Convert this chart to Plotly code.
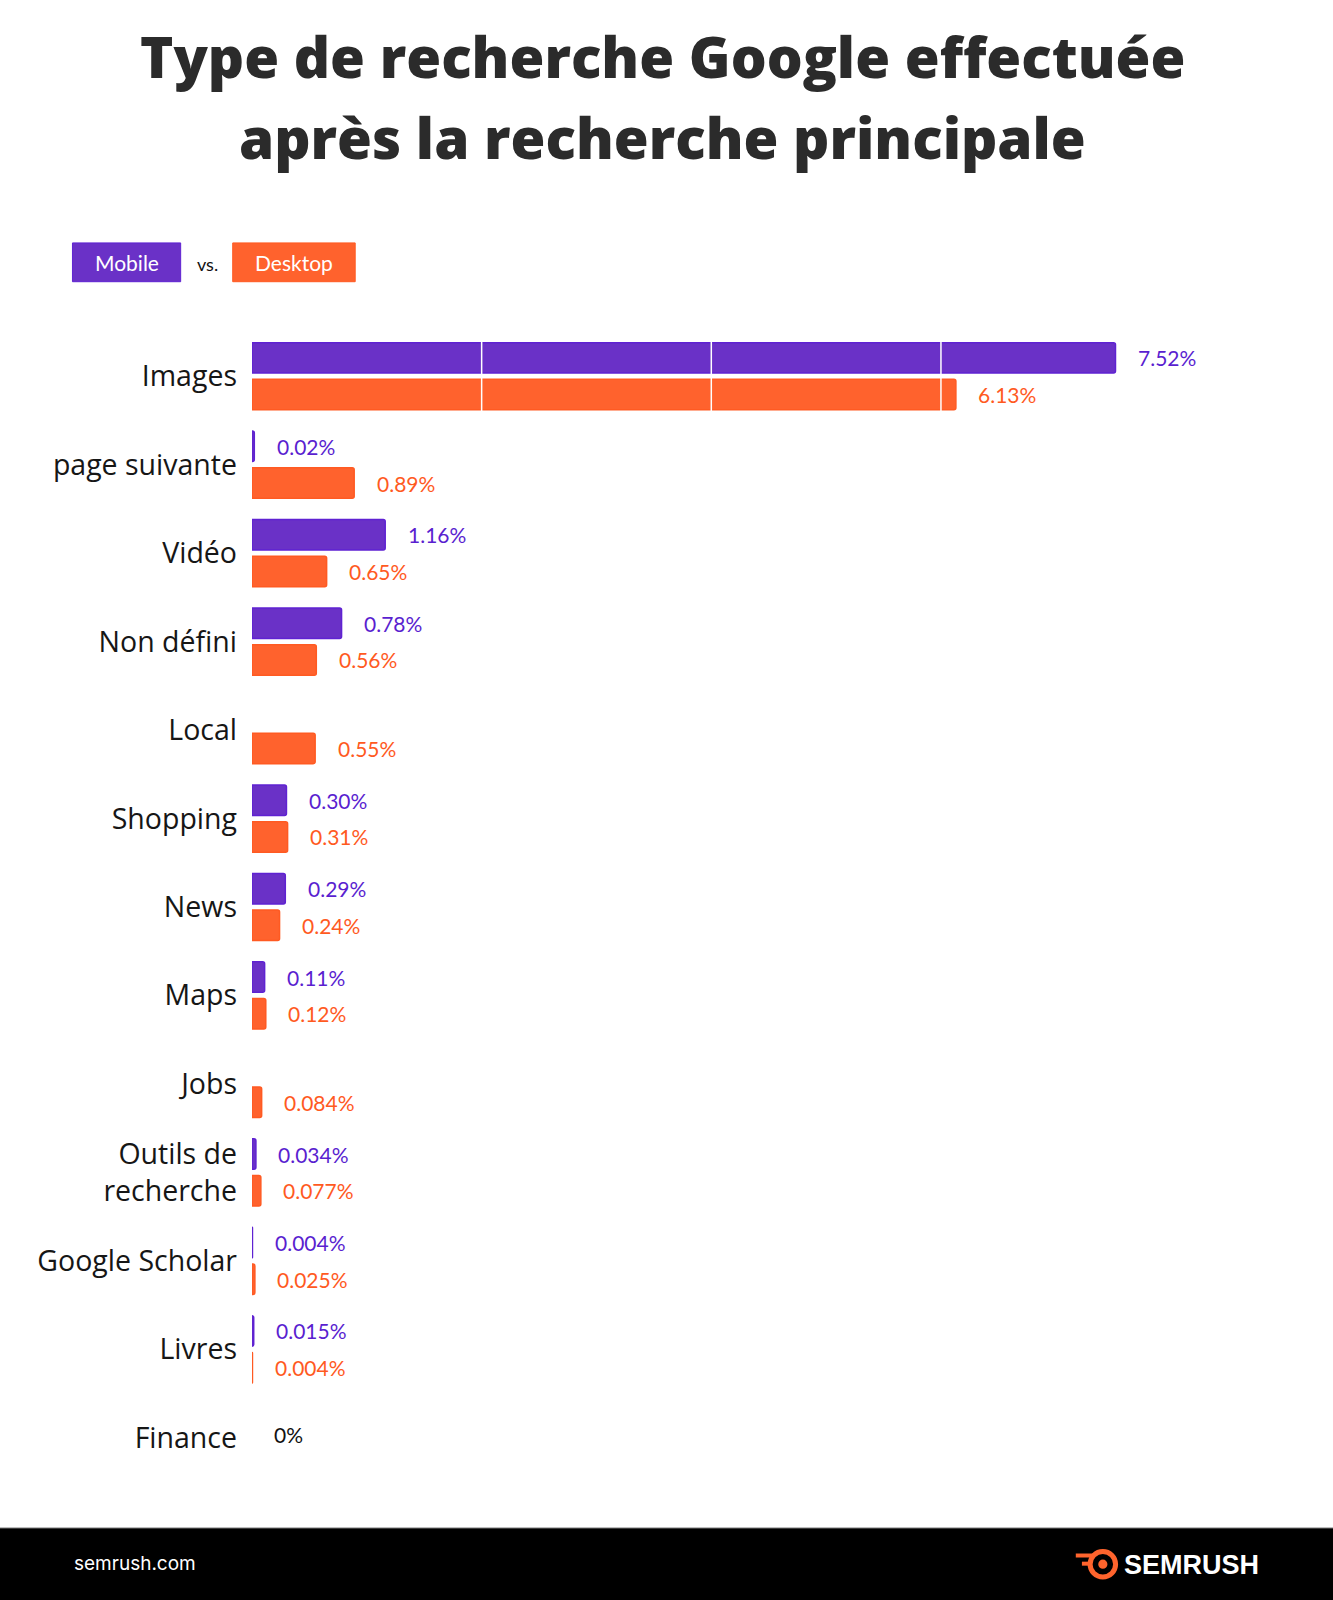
import plotly.graph_objects as go

# ---------------- data ----------------
categories = ["Images", "page suivante", "Vidéo", "Non défini", "Local", "Shopping",
              "News", "Maps", "Jobs", "Outils de<br>recherche", "Google Scholar",
              "Livres", "Finance"]
mobile_values = [7.52, 0.02, 1.16, 0.78, None, 0.30, 0.29, 0.11, None, 0.034, 0.004, 0.015, 0]
desktop_values = [6.13, 0.89, 0.65, 0.56, 0.55, 0.31, 0.24, 0.12, 0.084, 0.077, 0.025, 0.004, 0]
mobile_labels = ["7.52%", "0.02%", "1.16%", "0.78%", "", "0.30%", "0.29%", "0.11%", "",
                 "0.034%", "0.004%", "0.015%", ""]
desktop_labels = ["6.13%", "0.89%", "0.65%", "0.56%", "0.55%", "0.31%", "0.24%", "0.12%",
                  "0.084%", "0.077%", "0.025%", "0.004%", ""]
zero_label = "0%"
grid_values = [2, 4, 6]

title_lines = ["Type de recherche Google effectuée", "après la recherche principale"]

# ---------------- style ----------------
W, H = 1333, 1600
S = W / 1306.0
ML, MR, MT, MB = 252, 0, 332, 118
PW, PH = W - ML - MR, H - MT - MB
PX_PER_PCT = 112.5 * S

PURPLE = "#6A31C7"
PURPLE_EDGE = "#5F22D2"
PURPLE_TXT = "#5A1FD0"
ORANGE = "#FF622D"
ORANGE_EDGE = "#FF5A22"
ORANGE_TXT = "#FF5A1F"
DARK = "#161616"
VAL_FONT = "Lato"
VAL_SIZE = 21


def px(xr):
    return (xr * S - ML) / PW


def py(yr):
    return (H - MB - yr * S) / PH


def plot_vals(vals):
    return [None if (v is None or v == 0) else v for v in vals]


fig = go.Figure()
fig.add_trace(go.Bar(
    name="Mobile", y=categories, x=plot_vals(mobile_values), orientation="h",
    marker=dict(color=PURPLE, line=dict(color=PURPLE_EDGE, width=1.5), cornerradius=2),
    hoverinfo="skip"))
fig.add_trace(go.Bar(
    name="Desktop", y=categories, x=plot_vals(desktop_values), orientation="h",
    marker=dict(color=ORANGE, line=dict(color=ORANGE_EDGE, width=1.5), cornerradius=2),
    hoverinfo="skip"))

annotations = []
slot = 18 * S
for cat, v, lab in zip(categories, mobile_values, mobile_labels):
    if lab:
        annotations.append(dict(x=v, y=cat, xref="x", yref="y", text=lab, showarrow=False,
                                xanchor="left", yanchor="middle", xshift=20 * S, yshift=slot,
                                font=dict(family=VAL_FONT, size=VAL_SIZE, color=PURPLE_TXT)))
for cat, v, lab in zip(categories, desktop_values, desktop_labels):
    if lab:
        annotations.append(dict(x=v, y=cat, xref="x", yref="y", text=lab, showarrow=False,
                                xanchor="left", yanchor="middle", xshift=20 * S, yshift=-slot,
                                font=dict(family=VAL_FONT, size=VAL_SIZE, color=ORANGE_TXT)))
for cat, mv, dv in zip(categories, mobile_values, desktop_values):
    if mv == 0 and dv == 0:
        annotations.append(dict(x=0, y=cat, xref="x", yref="y", text=zero_label, showarrow=False,
                                xanchor="left", yanchor="middle", xshift=20 * S, yshift=3,
                                font=dict(family=VAL_FONT, size=VAL_SIZE, color="#111111")))

# title
for line, yr in zip(title_lines, [55, 135]):
    annotations.append(dict(x=px(649), y=py(yr), xref="paper", yref="paper", text=line,
                            showarrow=False, xanchor="center", yanchor="middle",
                            font=dict(family="Open Sans", size=56.5, weight=800, color="#2b2b2b")))

# legend text + footer text
annotations += [
    dict(x=px(124), y=py(257), xref="paper", yref="paper", text="Mobile", showarrow=False,
         xanchor="center", yanchor="middle", font=dict(family=VAL_FONT, size=21, color="white")),
    dict(x=px(203), y=py(259), xref="paper", yref="paper", text="vs.", showarrow=False,
         xanchor="center", yanchor="middle", font=dict(family=VAL_FONT, size=18, color="#111111")),
    dict(x=px(288), y=py(257), xref="paper", yref="paper", text="Desktop", showarrow=False,
         xanchor="center", yanchor="middle", font=dict(family=VAL_FONT, size=21, color="white")),
    dict(x=px(71), y=py(1532), xref="paper", yref="paper", text="semrush.com", showarrow=False,
         xanchor="left", yanchor="middle", font=dict(family="Inter", size=19, color="white")),
    dict(x=px(1099), y=py(1533), xref="paper", yref="paper", text="<b>SEMRUSH</b>", showarrow=False,
         xanchor="left", yanchor="middle", font=dict(family="Liberation Sans", size=27, color="white")),
]

shapes = [
    dict(type="rect", xref="paper", yref="paper", x0=px(71), x1=px(177), y0=py(238), y1=py(276),
         fillcolor=PURPLE, line=dict(color=PURPLE_EDGE, width=1)),
    dict(type="rect", xref="paper", yref="paper", x0=px(228), x1=px(348), y0=py(238), y1=py(276),
         fillcolor=ORANGE, line=dict(color=ORANGE_EDGE, width=1)),
    # footer band
    dict(type="rect", xref="paper", yref="paper", x0=px(-5), x1=px(1320), y0=py(1497), y1=py(1600),
         fillcolor="black", line=dict(width=0), layer="above"),
    dict(type="line", xref="paper", yref="paper", x0=px(-5), x1=px(1320), y0=py(1497), y1=py(1497),
         line=dict(color="#8a8a8a", width=1)),
    # logo icon (approximation)
    dict(type="circle", xref="paper", yref="paper", x0=px(1068), x1=px(1093), y0=py(1520), y1=py(1545),
         fillcolor="rgba(0,0,0,0)", line=dict(color="#FF642D", width=5)),
    dict(type="circle", xref="paper", yref="paper", x0=px(1076), x1=px(1085), y0=py(1528), y1=py(1537),
         fillcolor="#FF642D", line=dict(width=0)),
    dict(type="line", xref="paper", yref="paper", x0=px(1054), x1=px(1072), y0=py(1524), y1=py(1524),
         line=dict(color="#FF642D", width=4)),
    dict(type="line", xref="paper", yref="paper", x0=px(1060), x1=px(1070), y0=py(1532), y1=py(1532),
         line=dict(color="#FF642D", width=4)),
]
# white grid lines drawn over the bars
for g in grid_values:
    shapes.append(dict(type="line", xref="x", yref="paper", x0=g, x1=g, y0=0, y1=1,
                       line=dict(color="white", width=1.5), layer="above"))

fig.update_layout(
    width=W, height=H,
    margin=dict(l=ML, r=MR, t=MT, b=MB, pad=0, autoexpand=False),
    paper_bgcolor="white", plot_bgcolor="white",
    barmode="group", bargap=0.17, bargroupgap=0.17,
    showlegend=False,
    annotations=annotations, shapes=shapes,
    xaxis=dict(range=[0, PW / PX_PER_PCT], showticklabels=False, showgrid=False,
               zeroline=False, showline=False, fixedrange=True, automargin=False),
    yaxis=dict(autorange="reversed", showgrid=False, zeroline=False, showline=False, ticks="",
               ticklabelstandoff=14, automargin=False,
               tickfont=dict(family="Open Sans", size=28.5, color=DARK), fixedrange=True),
)

fig.write_html("out.html", config={"displayModeBar": False},
               post_script="document.body.style.margin='0px';")
